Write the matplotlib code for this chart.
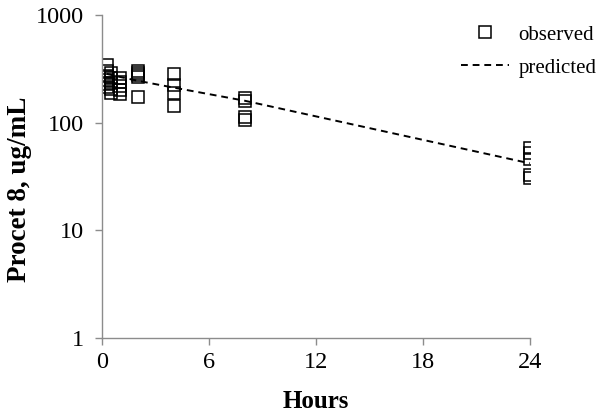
import matplotlib
matplotlib.use("Agg")
import matplotlib.pyplot as plt
from matplotlib.ticker import FixedLocator, FixedFormatter, NullLocator

plt.rcParams['font.family'] = ['Liberation Serif', 'DejaVu Serif']

# observed concentrations (ug/mL) by sampling time (h)
obs_hours = [0.25, 0.25, 0.25, 0.25, 0.25, 0.25,
             0.5, 0.5, 0.5, 0.5, 0.5,
             1, 1, 1, 1, 1,
             2, 2, 2, 2, 2,
             4, 4, 4, 4,
             8, 8, 8, 8,
             24, 24, 24, 24, 24]
obs_conc = [340, 300, 270, 250, 230, 215,
            290, 262, 232, 205, 190,
            262, 240, 220, 200, 183,
            305, 292, 280, 268, 175,
            285, 225, 190, 143,
            170, 158, 112, 105,
            58, 52, 46, 33, 31]

# model prediction
pred_hours = [0.25, 1, 2, 4, 8, 24]
pred_conc = [284, 266, 245, 212, 160, 42]

xticks = [0, 6, 12, 18, 24]
yticks = [1, 10, 100, 1000]

fig = plt.figure(figsize=(6.02, 4.17), dpi=100)
ax = fig.add_axes([0.170, 0.189, 0.710, 0.775])

ax.plot(obs_hours, obs_conc, linestyle='none', marker='s', markersize=8,
        markerfacecolor='none', markeredgecolor='black', markeredgewidth=1.1,
        label='observed')
ax.plot(pred_hours, pred_conc, color='black', linestyle=(0, (3.5, 2.5)),
        linewidth=1.4, label='predicted')

ax.set_yscale('log')
ax.set_xlim(0, 24)
ax.set_ylim(1, 1000)
ax.xaxis.set_major_locator(FixedLocator(xticks))
ax.yaxis.set_major_locator(FixedLocator(yticks))
ax.yaxis.set_major_formatter(FixedFormatter([str(v) for v in yticks]))
ax.yaxis.set_minor_locator(NullLocator())

for s in ['top', 'right']:
    ax.spines[s].set_visible(False)
for s in ['left', 'bottom']:
    ax.spines[s].set_color('#8c8c8c')
    ax.spines[s].set_linewidth(1.0)
ax.tick_params(axis='both', direction='out', length=5, width=1.0,
               color='#8c8c8c', labelsize=17.5)
ax.tick_params(axis='y', pad=8.5)
ax.tick_params(axis='x', pad=5)

ax.set_xlabel('Hours', fontsize=18, fontweight='bold', labelpad=12)
ax.set_ylabel('Procet 8, ug/mL', fontsize=19.5, fontweight='bold')
ax.yaxis.set_label_coords(-0.165, 0.46)

ax.legend(loc='upper right', bbox_to_anchor=(1.015, 0.975),
          bbox_transform=fig.transFigure, frameon=False,
          fontsize=15, handlelength=2.3, handletextpad=0.45,
          labelspacing=0.65, borderpad=0.2)

fig.savefig('out.png', dpi=100)
